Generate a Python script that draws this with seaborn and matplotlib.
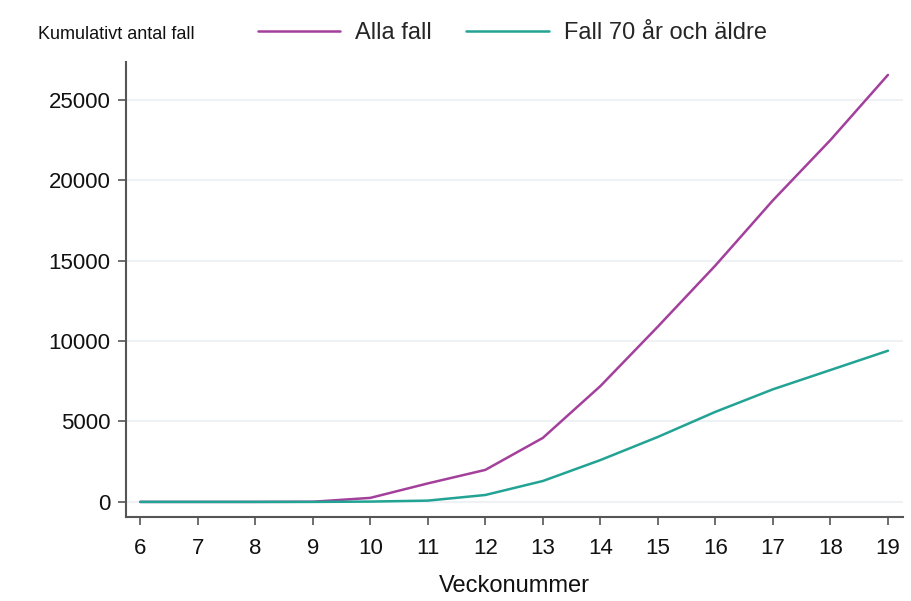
import matplotlib
matplotlib.use("Agg")
import matplotlib.pyplot as plt
import seaborn as sns
import pandas as pd

weeks = [6, 7, 8, 9, 10, 11, 12, 13, 14, 15, 16, 17, 18, 19]
alla_fall = [0, 0, 0, 10, 250, 1150, 1990, 3980, 7200, 10900, 14700, 18750, 22500, 26550]
fall_70 = [0, 0, 0, 0, 20, 80, 430, 1300, 2600, 4040, 5600, 7000, 8200, 9400]
series_names = ["Alla fall", "Fall 70 år och äldre"]
colors = ["#a3409b", "#22a394"]
y_ticks = [0, 5000, 10000, 15000, 20000, 25000]

df = pd.DataFrame({
    "Vecka": weeks * 2,
    "Antal": alla_fall + fall_70,
    "Serie": [series_names[0]] * len(weeks) + [series_names[1]] * len(weeks),
})

sns.set_theme(style="white")
plt.rcParams['font.family'] = ['Liberation Sans', 'DejaVu Sans']

fig = plt.figure(figsize=(9.12, 6.01), dpi=100)
ax = fig.add_axes([0.138, 0.140, 0.852, 0.757])

sns.lineplot(data=df, x="Vecka", y="Antal", hue="Serie", palette=colors,
             linewidth=1.8, ax=ax, legend=True)

handles, labels = ax.get_legend_handles_labels()
ax.get_legend().remove()

ax.set_xlim(5.75, 19.26)
ax.set_ylim(-930, 27360)
ax.set_xticks(weeks)
ax.set_yticks(y_ticks)
ax.set_yticklabels([str(v) for v in y_ticks])
ax.yaxis.grid(True, color="#eef2f4", linewidth=1.5)
ax.xaxis.grid(False)
ax.set_axisbelow(True)

for s in ["top", "right"]:
    ax.spines[s].set_visible(False)
for s in ["left", "bottom"]:
    ax.spines[s].set_color("#555555")
    ax.spines[s].set_linewidth(1.5)

ax.tick_params(axis="both", which="major", direction="out", length=6, width=1.2,
               color="#555555", labelsize=16, labelcolor="#111111", pad=5,
               bottom=True, left=True)
ax.tick_params(axis="x", pad=9)

ax.set_xlabel("Veckonummer", fontsize=17, color="#111111", labelpad=12)
ax.set_ylabel("")

fig.text(0.042, 0.943, "Kumulativt antal fall", fontsize=13, color="#111111",
         ha="left", va="center")

fig.legend(handles, labels, loc="center left", bbox_to_anchor=(0.272, 0.945),
           ncol=2, frameon=False, fontsize=17, handlelength=3.5,
           handletextpad=0.65, columnspacing=1.45, borderaxespad=0)

fig.savefig("out.png", dpi=100)
